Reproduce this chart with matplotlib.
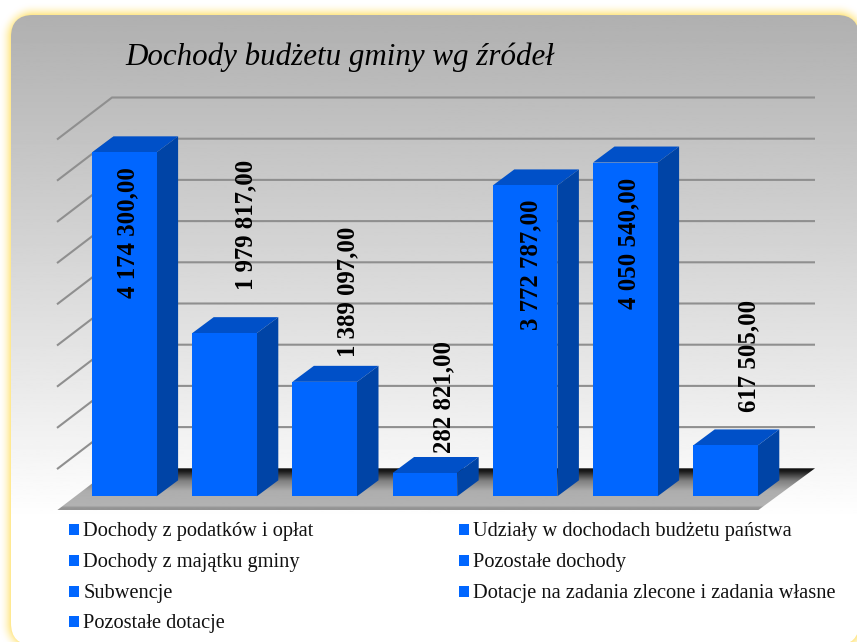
import numpy as np
import matplotlib
matplotlib.use("Agg")
import matplotlib.pyplot as plt
from matplotlib.patches import Polygon, FancyBboxPatch, Rectangle

# Data
categories = [
    "Dochody z podatków i opłat",
    "Udziały w dochodach budżetu państwa",
    "Dochody z majątku gminy",
    "Pozostałe dochody",
    "Subwencje",
    "Dotacje na zadania zlecone i zadania własne",
    "Pozostałe dotacje",
]
values = [4174300, 1979817, 1389097, 282821, 3772787, 4050540, 617505]
value_labels = ["4 174 300,00", "1 979 817,00", "1 389 097,00", "282 821,00",
                "3 772 787,00", "4 050 540,00", "617 505,00"]
grid_values = [500000, 1000000, 1500000, 2000000, 2500000, 3000000, 3500000, 4000000, 4500000]
title = "Dochody budżetu gminy wg źródeł"

W, H = 857, 642
FRONT = "#0066ff"
TOP = "#0050c8"
SIDE = "#0044a6"

plt.rcParams["font.family"] = "Liberation Serif"
fig = plt.figure(figsize=(W / 100, H / 100), dpi=100)

# background axes in pixel coordinates
bg = fig.add_axes([0, 0, 1, 1])

# yellow glow round the panel (distance to a rounded box)
px0, py0, px1, py1, radius = 11, 15, 859, 645, 22
yy, xx = np.mgrid[0:H, 0:W]
cx, cy = (px0 + px1) / 2, (py0 + py1) / 2
qx = np.abs(xx - cx) - ((px1 - px0) / 2 - radius)
qy = np.abs(yy - cy) - ((py1 - py0) / 2 - radius)
dist = np.hypot(np.maximum(qx, 0), np.maximum(qy, 0)) - radius
glow = np.clip(1 - dist / 13, 0, 1) ** 2
img = np.ones((H, W, 3))
img[..., 1] = 1 - glow * 0.1
img[..., 2] = 1 - glow * 0.5
bg.imshow(img, extent=(0, W, H, 0), aspect="auto", zorder=0)

# panel with grey to white gradient
panel = FancyBboxPatch((px0 + radius, py0 + radius), px1 - px0 - 2 * radius, py1 - py0 - 2 * radius,
                       boxstyle=f"round,pad={radius},rounding_size={radius}",
                       fc="none", ec="none", transform=bg.transData)
bg.add_patch(panel)
grad = np.clip((np.linspace(0, H, 400) - 15) / 505, 0, 1)
grad = (0.69 + 0.31 * grad)[:, None]
g = bg.imshow(grad, extent=(0, W, H, 0), aspect="auto", cmap="gray", vmin=0, vmax=1, zorder=1)
g.set_clip_path(panel)
bg.set_xlim(0, W)
bg.set_ylim(H, 0)
bg.axis("off")

# chart axes: x is category number, y is value
BASE_Y = 496.3
PX_PER_UNIT = 41.2 / 500000
X0 = 124.3
STEP = 100.2
ax = fig.add_axes([0, 0, 1, 1], facecolor="none")

dep_x = 21.5 / STEP
dep_y = 16 / PX_PER_UNIT
bar_w = 64.6 / STEP

# floor sits below the bars' base
fl_front = -14 / PX_PER_UNIT
fl_back = 28 / PX_PER_UNIT
fl_left = (57 - X0) / STEP
fl_right = (758 - X0) / STEP
fl_back_left = (112 - X0) / STEP
fl_back_right = (815 - X0) / STEP
floor = Polygon([(fl_left, fl_front), (fl_back_left, fl_back),
                 (fl_back_right, fl_back), (fl_right, fl_front)],
                closed=True, fc="none", ec="none")
ax.add_patch(floor)
shade = np.interp(np.linspace(0, 1, 100), [0, 0.08, 0.3, 0.55, 0.9, 0.95, 1],
                  [0.05, 0.12, 0.5, 0.68, 0.70, 0.58, 0.58])[:, None]
f = ax.imshow(shade, extent=(fl_left, fl_back_right, fl_front, fl_back),
              origin="upper", aspect="auto", cmap="gray", vmin=0, vmax=1, zorder=1)
f.set_clip_path(floor)
ax.set_xlim(-X0 / STEP, (W - X0) / STEP)
ax.set_ylim((BASE_Y - H) / PX_PER_UNIT, BASE_Y / PX_PER_UNIT)
ax.axis("off")

# wall gridlines with the diagonal on the left
for gv in grid_values:
    y = gv + fl_back
    ax.plot([fl_left, fl_back_left, fl_back_right],
            [y - (fl_back - fl_front), y, y], color="#8f8f8f", lw=1.5, zorder=2,
            solid_joinstyle="miter", solid_capstyle="butt")

xs = np.arange(len(values))
ax.bar(xs, values, width=bar_w, color=FRONT, zorder=5)
for x, v in zip(xs, values):
    l, r = x - bar_w / 2, x + bar_w / 2
    ax.add_patch(Polygon([(l, v), (l + dep_x, v + dep_y), (r + dep_x, v + dep_y), (r, v)],
                         fc=TOP, ec="none", zorder=4))
    ax.add_patch(Polygon([(r, 0), (r + dep_x, dep_y), (r + dep_x, v + dep_y), (r, v)],
                         fc=SIDE, ec="none", zorder=4))

# texts on top, pixel coordinates
lab = fig.add_axes([0, 0, 1, 1], facecolor="none")
lab.set_xlim(0, W)
lab.set_ylim(H, 0)
lab.axis("off")

label_px = [(128, 233), (246, 225), (348, 292), (444, 397), (531, 265), (629, 243), (749, 356)]
for (px, py), txt in zip(label_px, value_labels):
    lab.text(px, py, txt, rotation=90, ha="center", va="center", fontsize=17.8,
             fontweight="bold", color="black")

lab.text(125, 65, title, fontsize=22.3, style="italic", ha="left", va="baseline", color="black")

# legend, two columns
rows = [530, 561, 592, 622]
legend_pos = [(0, 0), (1, 0), (0, 1), (1, 1), (0, 2), (1, 2), (0, 3)]
col_x = [69, 459]
for (c, r), name in zip(legend_pos, categories):
    lab.add_patch(Rectangle((col_x[c], rows[r] - 6), 10, 11, fc=FRONT, ec="none"))
    lab.text(col_x[c] + 14.5, rows[r] + 6, name, fontsize=14.7, ha="left", va="baseline", color="#111111")

fig.savefig("out.png", dpi=100)
